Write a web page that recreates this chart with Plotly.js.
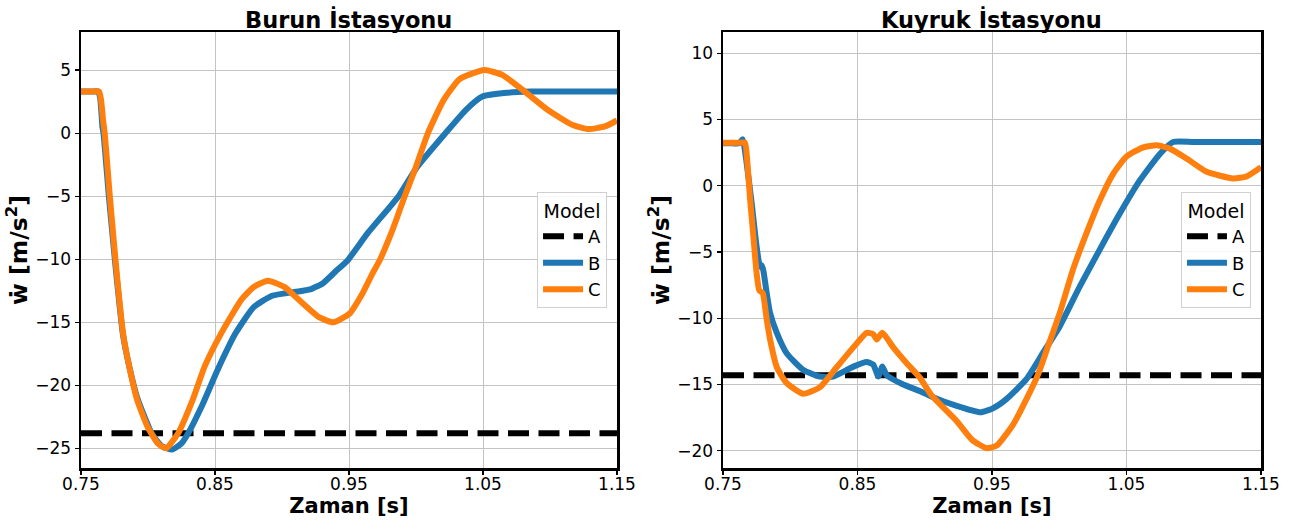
<!DOCTYPE html>
<html>
<head>
<meta charset="utf-8">
<script src="https://cdn.plot.ly/plotly-3.0.1.min.js"></script>
<style>html,body{margin:0;padding:0;background:#fff;} #chart{width:1291px;height:520px;}</style>
</head>
<body>
<div id="chart"></div>
<script>
// ---- data ----
const xTickVals = [0.75, 0.85, 0.95, 1.05, 1.15];
const xTickText = ["0.75", "0.85", "0.95", "1.05", "1.15"];
const yTickValsL = [-25, -20, -15, -10, -5, 0, 5];
const yTickTextL = ["\u221225", "\u221220", "\u221215", "\u221210", "\u22125", "0", "5"];
const yTickValsR = [-20, -15, -10, -5, 0, 5, 10];
const yTickTextR = ["\u221220", "\u221215", "\u221210", "\u22125", "0", "5", "10"];

const seriesNames = ["A", "B", "C"];
const titles = ["Burun \u0130stasyonu", "Kuyruk \u0130stasyonu"];

// Burun (left)
const tA_L = [0.75, 1.15];
const yA_L = [-23.8, -23.8];
const tB_L = [0.75, 0.758, 0.763, 0.7645, 0.766, 0.7668, 0.7708, 0.7758, 0.7812, 0.786, 0.792, 0.8027, 0.810, 0.818, 0.825, 0.830, 0.8408, 0.8514, 0.8652, 0.8789, 0.8926, 0.9093, 0.921, 0.9306, 0.9397, 0.9489, 0.9642, 0.987, 1.0007, 1.022, 1.0373, 1.0495, 1.0677, 1.086, 1.11, 1.15];
const yB_L = [3.3, 3.3, 3.3, 2.6, 0.5, 0, -5, -10.6, -15.9, -18.5, -21.0, -23.8, -24.8, -25.1, -24.6, -23.8, -21.5, -18.9, -15.9, -13.8, -12.9, -12.6, -12.4, -11.9, -11.0, -10.1, -7.9, -5.0, -2.7, 0, 1.85, 2.9, 3.2, 3.3, 3.3, 3.3];
const tC_L = [0.75, 0.758, 0.7635, 0.765, 0.7665, 0.7677, 0.7715, 0.7762, 0.7814, 0.786, 0.792, 0.7997, 0.8073, 0.8134, 0.8225, 0.8332, 0.8423, 0.8545, 0.8697, 0.8789, 0.8895, 0.9017, 0.9124, 0.9276, 0.9383, 0.9505, 0.9596, 0.9672, 0.9733, 0.9824, 0.9916, 0.9992, 1.0089, 1.0205, 1.0327, 1.051, 1.0647, 1.0799, 1.0982, 1.1165, 1.1287, 1.1409, 1.15];
const yC_L = [3.3, 3.3, 3.3, 2.6, 1.0, 0, -5, -10.6, -15.9, -18.5, -21.2, -23.3, -24.6, -25.0, -23.8, -21.2, -18.5, -15.9, -13.2, -12.2, -11.7, -12.2, -13.2, -14.6, -15.0, -14.3, -12.8, -11.2, -10.0, -7.7, -5.0, -2.9, 0, 2.6, 4.3, 5.0, 4.6, 3.4, 1.85, 0.66, 0.32, 0.53, 1.0];

// Kuyruk (right)
const tA_R = [0.75, 1.15];
const yA_R = [-14.3, -14.3];
const tB_R = [0.75, 0.757, 0.762, 0.7646, 0.7676, 0.7713, 0.775, 0.7775, 0.7788, 0.7800, 0.7825, 0.785, 0.790, 0.7974, 0.8097, 0.8221, 0.832, 0.8469, 0.8568, 0.8617, 0.8655, 0.8685, 0.8717, 0.884, 0.8965, 0.9049, 0.9232, 0.9415, 0.9506, 0.9607, 0.9756, 0.988, 1.0004, 1.0153, 1.0302, 1.045, 1.0599, 1.0748, 1.0847, 1.10, 1.15];
const yB_R = [3.2, 3.2, 3.2, 3.5, 1.7, -1.3, -4.6, -6.1, -6.0, -6.4, -8.1, -9.6, -11.1, -12.65, -13.9, -14.4, -14.4, -13.65, -13.3, -13.5, -14.4, -13.65, -14.3, -15.0, -15.5, -15.9, -16.6, -17.1, -16.8, -16.1, -14.6, -12.6, -10.6, -7.6, -4.8, -2.1, 0.4, 2.4, 3.3, 3.3, 3.3];
const tC_R = [0.75, 0.757, 0.763, 0.7664, 0.768, 0.770, 0.7726, 0.775, 0.777, 0.7795, 0.7825, 0.785, 0.790, 0.7974, 0.8097, 0.8221, 0.8345, 0.8469, 0.8568, 0.8617, 0.8643, 0.8685, 0.8766, 0.8866, 0.8965, 0.9049, 0.9232, 0.9354, 0.946, 0.9536, 0.9658, 0.9756, 0.9842, 0.9917, 1.0004, 1.0103, 1.0202, 1.0302, 1.0401, 1.05, 1.0624, 1.0723, 1.0823, 1.0947, 1.1096, 1.1294, 1.1393, 1.15];
const yC_R = [3.25, 3.25, 3.25, 3.25, 1.9, -0.83, -3.85, -6.6, -7.9, -8.1, -10.1, -11.6, -13.7, -14.9, -15.7, -15.2, -13.7, -12.2, -11.1, -11.2, -11.6, -11.1, -12.2, -13.4, -14.5, -15.8, -17.7, -19.2, -19.8, -19.6, -18.0, -16.1, -14.25, -12.1, -9.6, -6.3, -3.6, -1.1, 0.9, 2.2, 2.9, 3.05, 2.8, 2.05, 1.05, 0.55, 0.7, 1.4];

// ---- styles ----
const FONT = "DejaVu Sans, Liberation Sans, sans-serif";
const lineStyles = [
  {color: "#000000", width: 6, dash: "21px,9.5px"},
  {color: "#1f77b4", width: 6},
  {color: "#ff7f0e", width: 6}
];

function mk(t, y, i, xa, ya, lg) {
  const ls = Object.assign({}, lineStyles[i]);
  if (i > 0) { ls.shape = "spline"; ls.smoothing = 0.5; }
  return {x: t, y: y, type: "scatter", mode: "lines", name: seriesNames[i],
          line: ls, xaxis: xa, yaxis: ya, legend: lg, hoverinfo: "skip"};
}

const data = [
  mk(tA_L, yA_L, 0, "x", "y", "legend"),
  mk(tB_L, yB_L, 1, "x", "y", "legend"),
  mk(tC_L, yC_L, 2, "x", "y", "legend"),
  mk(tA_R, yA_R, 0, "x2", "y2", "legend2"),
  mk(tB_R, yB_R, 1, "x2", "y2", "legend2"),
  mk(tC_R, yC_R, 2, "x2", "y2", "legend2")
];

function xax(domain, anchor) {
  return {domain: domain, anchor: anchor, range: [0.75, 1.15],
    tickmode: "array", tickvals: xTickVals, ticktext: xTickText,
    ticks: "outside", ticklen: 4, tickwidth: 1.2, tickcolor: "#000",
    ticklabelstandoff: -5,
    showline: true, mirror: true, linecolor: "#000", linewidth: 2.5,
    showgrid: true, gridcolor: "#c4c4c4", gridwidth: 1, zeroline: false,
    tickfont: {family: FONT, size: 17, color: "#000"},
    title: {text: "Zaman [s]", standoff: 2, font: {family: FONT, size: 21, color: "#000", weight: "bold"}}};
}
function yax(range, tv, tt, anchor) {
  return {domain: [0, 1], anchor: anchor, range: range,
    tickmode: "array", tickvals: tv, ticktext: tt,
    ticks: "outside", ticklen: 4, tickwidth: 1.2, tickcolor: "#000",
    showline: true, mirror: true, linecolor: "#000", linewidth: 2.5,
    showgrid: true, gridcolor: "#c4c4c4", gridwidth: 1, zeroline: false,
    tickfont: {family: FONT, size: 17, color: "#000"},
    title: {text: "\u1E87 [m/s<sup>2</sup>]", standoff: 1, font: {family: FONT, size: 23.5, color: "#000", weight: "bold"}}};
}
function leg(x) {
  return {x: x, xanchor: "right", y: 0.632, yanchor: "top",
    bgcolor: "rgba(255,255,255,0.85)", bordercolor: "#d0d0d0", borderwidth: 1,
    font: {family: FONT, size: 18, color: "#000"},
    title: {text: "Model", side: "top center", font: {family: FONT, size: 19, color: "#000"}},
    itemwidth: 40, tracegroupgap: 0};
}

const layout = {
  width: 1291, height: 520,
  margin: {l: 81, r: 30, t: 32, b: 52},
  paper_bgcolor: "#ffffff", plot_bgcolor: "#ffffff",
  showlegend: true,
  xaxis: xax([0, 0.45424], "y"),
  yaxis: yax([-26.56, 8.02], yTickValsL, yTickTextL, "x"),
  xaxis2: xax([0.54407, 1], "y2"),
  yaxis2: yax([-21.3, 11.6], yTickValsR, yTickTextR, "x2"),
  legend: leg(0.4458),
  legend2: leg(0.9915),
  annotations: [
    {text: titles[0], xref: "paper", yref: "paper", x: 0.2271, y: 1.0298, xanchor: "center", yanchor: "middle", showarrow: false,
     font: {family: FONT, size: 22.5, color: "#000", weight: "bold"}},
    {text: titles[1], xref: "paper", yref: "paper", x: 0.772, y: 1.0298, xanchor: "center", yanchor: "middle", showarrow: false,
     font: {family: FONT, size: 22.5, color: "#000", weight: "bold"}}
  ]
};

Plotly.newPlot("chart", data, layout, {staticPlot: true, displayModeBar: false});
</script>
</body>
</html>
